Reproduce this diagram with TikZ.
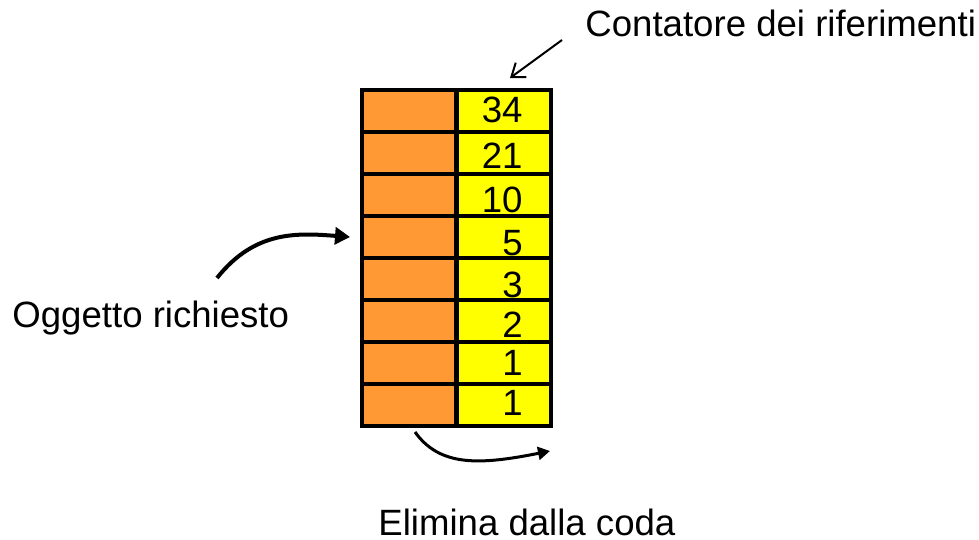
\documentclass[tikz,border=0pt]{standalone}
\usepackage{fontspec}
\setmainfont{Liberation Sans}
\usepackage{tikz}
\usetikzlibrary{arrows.meta}
\definecolor{cellorange}{HTML}{FF9933}
\definecolor{cellyellow}{HTML}{FFFF00}
\tikzset{
	txt/.style={font=\fontsize{18.3pt}{22pt}\selectfont, inner sep=0pt},
	cell/.style={draw=black, line width=2pt, minimum width=47pt, minimum height=21pt, inner sep=0pt},
	bigarrow/.style={line width=2pt, -{Triangle[length=7.5pt, width=8.5pt]}},
	smallarrow/.style={line width=1pt, -{Straight Barb[length=6pt, width=9pt]}}
}

\begin{document}
\begin{tikzpicture}[
		x=0.5pt, y=-0.5pt
	]
	\useasboundingbox (0,0) rectangle (979,540);
	% the queue: object | reference counter
	\foreach \v/\b [count=\i] in {34/123,21/168,10/212,5/255,3/297,2/337,1/375,1/415}
	{
		\node[cell, fill=cellorange] (obj\i) at (409,{111+42*(\i-1)}) {};
		\node[cell, fill=cellyellow] (cnt\i) at (504,{111+42*(\i-1)}) {};
		\node[txt, anchor=base east] (num\i) at (523,\b) {\v};
	}
	
	\node[txt, anchor=base west] (cntlabel) at (585,37)
		{Contatore dei riferimenti};
	\node[txt, anchor=base west] (reqlabel) at (12,327)
		{Oggetto richiesto};
	\node[txt, anchor=base west] (elimlabel) at (378,535)
		{Elimina dalla coda};
	
	\coordinate (cnttail) at (562,40);
	\coordinate (reqtail) at (217,278);
	\coordinate (elimtip) at (550,451);
	
	\draw[smallarrow]
		(cnttail) -- ([shift={(6,-10)}]cnt1.north);
	\draw[bigarrow]
		(reqtail) .. controls +(38,-48) and +(-52,-4) .. ([xshift=-5pt]obj4.west);
	\draw[line width=1.5pt, -{Triangle[length=6pt, width=6.5pt]}]
		([shift={(6,4)}]obj8.south) .. controls +(25,35) and +(-70,14) .. (elimtip);
\end{tikzpicture}
\end{document}
